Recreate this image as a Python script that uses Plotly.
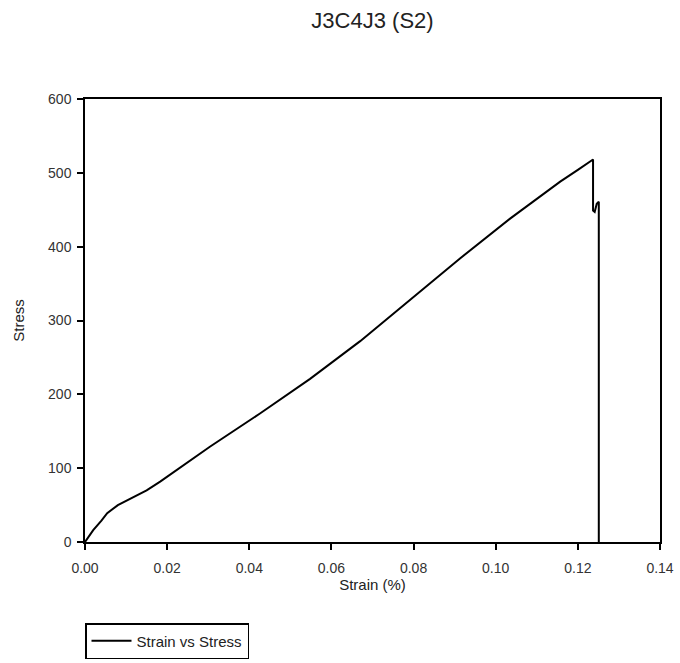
import plotly.graph_objects as go

strain = [0.0, 0.002, 0.004, 0.0054, 0.008, 0.011, 0.015, 0.0183, 0.0304, 0.0426,
          0.0548, 0.0670, 0.0791, 0.0913, 0.1035, 0.1157, 0.1200, 0.1237,
          0.1237, 0.1241, 0.1246, 0.1250, 0.1251, 0.1251]
stress = [0.0, 16, 29, 39, 50, 59, 70, 81.7, 129, 174,
          221, 272, 328, 384, 438, 488, 504, 518,
          449, 447, 458, 461, 461, 0.0]

x_ticks = [0.00, 0.02, 0.04, 0.06, 0.08, 0.10, 0.12, 0.14]
x_tick_labels = ["0.00", "0.02", "0.04", "0.06", "0.08", "0.10", "0.12", "0.14"]
y_ticks = [0, 100, 200, 300, 400, 500, 600]

fig = go.Figure()
fig.add_trace(go.Scatter(
    x=strain, y=stress, mode="lines", name="Strain vs Stress",
    line=dict(color="black", width=2),
))

font_family = "Liberation Sans, Arial, sans-serif"
fig.update_layout(
    width=680, height=663,
    margin=dict(l=85, r=20, t=99, b=121, autoexpand=False),
    paper_bgcolor="white", plot_bgcolor="white",
    font=dict(family=font_family, color="#333333", size=14),
    title=dict(text="J3C4J3 (S2)", x=(85 + 660) / 2 / 680, xanchor="center",
               y=1 - 20 / 663, yanchor="middle",
               font=dict(size=22, color="#222222", family=font_family)),
    showlegend=True,
    legend=dict(x=0, y=-0.183, xanchor="left", yanchor="top",
                bordercolor="black", borderwidth=1.5, bgcolor="white",
                font=dict(size=15, color="#222222"), itemwidth=40,
                traceorder="normal"),
)
fig.update_xaxes(
    range=[0, 0.14], tickvals=x_ticks, ticktext=x_tick_labels,
    showgrid=False, zeroline=False, automargin=False,
    showline=True, linecolor="black", linewidth=1.5, mirror=True,
    ticks="outside", ticklen=6, tickcolor="black", tickwidth=1.5,
    ticklabelstandoff=6,
    tickfont=dict(size=14, color="#333333"),
    title=dict(text="Strain (%)", font=dict(size=15, color="#222222"), standoff=3),
)
fig.update_yaxes(
    range=[0, 600], tickvals=y_ticks,
    showgrid=False, zeroline=False, automargin=False,
    showline=True, linecolor="black", linewidth=1.5, mirror=True,
    ticks="outside", ticklen=6, tickcolor="black", tickwidth=1.5,
    ticklabelstandoff=3,
    tickfont=dict(size=14, color="#333333"),
    title=dict(text="Stress", font=dict(size=15, color="#222222"), standoff=20),
)

fig.write_html("out.html")
